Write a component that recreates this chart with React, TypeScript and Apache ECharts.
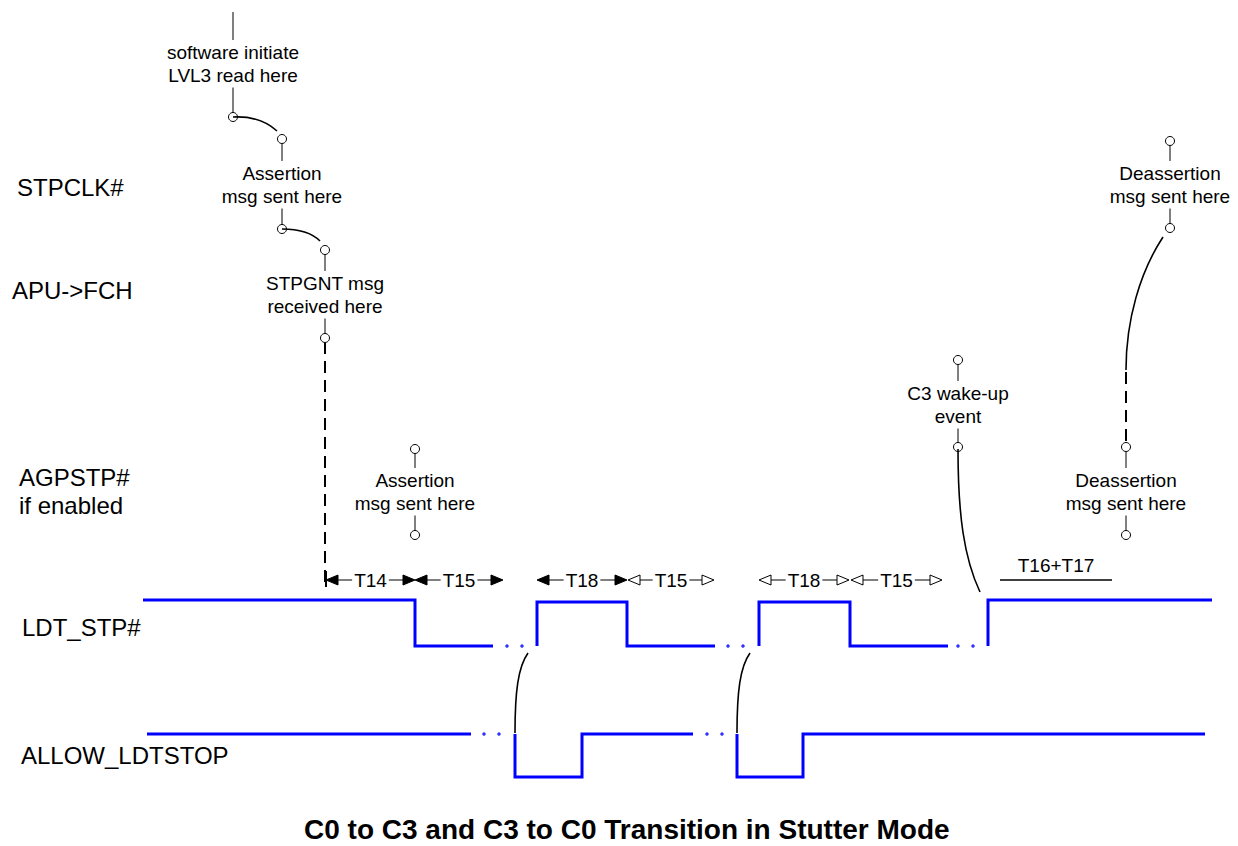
import React, { useEffect, useRef } from "react";
import * as echarts from "echarts";

const FONT = "'Liberation Sans', Arial, Helvetica, sans-serif";

// ---- Signal names (left column) ----
const signalNames = ["STPCLK#", "APU->FCH", "AGPSTP#", "if enabled", "LDT_STP#", "ALLOW_LDTSTOP"];
const signalNameX = [17, 12, 19, 19, 22, 21];
const signalNameY = [187, 290, 477, 505, 627, 755];

// ---- Waveforms (x = time position, y = level on the diagram scale) ----
const ldtStpSegments: number[][][] = [
  [[143, 600], [415, 600], [415, 646], [493, 646]],
  [[537, 646], [537, 602], [627, 602], [627, 646], [715, 646]],
  [[759, 646], [759, 602], [850, 602], [850, 646], [948, 646]],
  [[988, 646], [988, 600], [1212, 600]],
];
const ldtStpDots: number[][] = [[507, 646], [522, 646], [728, 646], [743, 646], [958, 646], [973, 646]];

const allowSegments: number[][][] = [
  [[147, 734], [471, 734]],
  [[515, 734], [515, 777], [582, 777], [582, 734], [693, 734]],
  [[737, 734], [737, 777], [803, 777], [803, 734], [1205, 734]],
];
const allowDots: number[][] = [[484, 734], [499, 734], [707, 734], [722, 734]];

// ---- Annotation pins ----
const pinX = [233, 282, 325, 415, 958, 1170, 1126];
const pinTopY = [12, 139, 250, 449, 360, 141, 447];
const pinTextY = [52, 173, 283, 480, 393, 173, 480];
const pinBottomY = [117, 229, 338, 535, 447, 228, 535];
const pinHasTopCircle = [false, true, true, true, true, true, true];
const pinLabels = [
  ["software initiate", "LVL3 read here"],
  ["Assertion", "msg sent here"],
  ["STPGNT msg", "received here"],
  ["Assertion", "msg sent here"],
  ["C3 wake-up", "event"],
  ["Deassertion", "msg sent here"],
  ["Deassertion", "msg sent here"],
];

// ---- Connecting curves: start, control1, control2, end ----
const curves: number[][] = [
  [233, 117, 252, 116, 266, 121, 277, 131],
  [282, 229, 300, 229, 312, 233, 320, 241],
  [958, 449, 958, 515, 964, 558, 980, 592],
  [1163, 237, 1140, 272, 1126, 320, 1126, 370],
  [515, 733, 515, 692, 518, 667, 528, 653],
  [737, 733, 737, 692, 740, 667, 750, 653],
];

// ---- Dashed connectors ----
const dashedX = [325, 1126];
const dashedY1 = [342, 372];
const dashedY2 = [584, 444];

// ---- Timing intervals ----
const timingLabels = ["T14", "T15", "T18", "T15", "T18", "T15"];
const timingStart = [326, 415, 537, 628, 759, 851];
const timingEnd = [415, 503, 627, 714, 849, 942];
const timingFilled = [true, true, true, false, false, false];
const timingRowY = 580;
const timingStartBar = [326, 571, 587];

const spanLabel = "T16+T17";
const spanStart = 1000;
const spanEnd = 1112;

const title = "C0 to C3 and C3 to C0 Transition in Stutter Mode";

export default function App() {
  const ref = useRef<HTMLDivElement>(null);

  useEffect(() => {
    document.body.style.margin = "0";
    if (!ref.current) return;
    const chart = echarts.init(ref.current, undefined, { renderer: "svg" });

    const blue = "#0000ff";
    const lineSeries = (segs: number[][][], name: string) =>
      segs.map((seg, i) => ({
        name: name + i,
        type: "line",
        data: seg,
        symbol: "none",
        silent: true,
        lineStyle: { color: blue, width: 3, cap: "butt", join: "miter" },
        z: 3,
      }));

    const option: any = {
      animation: false,
      backgroundColor: "#ffffff",
      title: {
        text: title,
        left: 304,
        top: 814,
        padding: 0,
        textStyle: { fontFamily: FONT, fontSize: 28, fontWeight: "bold", color: "#000", lineHeight: 30 },
      },
      grid: { left: 0, right: 0, top: 0, bottom: 0 },
      xAxis: { type: "value", min: 0, max: 1238, show: false },
      yAxis: { type: "value", min: 0, max: 846, inverse: true, show: false },
      graphic: signalNames.map((t, i) => ({
        type: "text",
        x: signalNameX[i],
        y: signalNameY[i],
        silent: true,
        style: {
          text: t,
          fill: "#000",
          font: `24px ${FONT}`,
          align: "left",
          verticalAlign: "middle",
        },
      })),
      series: [
        ...lineSeries(ldtStpSegments, "ldt"),
        ...lineSeries(allowSegments, "allow"),
        {
          type: "scatter",
          data: [...ldtStpDots, ...allowDots],
          symbol: "circle",
          symbolSize: 3.5,
          itemStyle: { color: blue },
          silent: true,
          z: 3,
        },
        // dashed connectors
        {
          type: "custom",
          silent: true,
          data: dashedX.map((x, i) => [x, dashedY1[i], dashedY2[i]]),
          renderItem: (params: any, api: any) => {
            const a = api.coord([api.value(0), api.value(1)]);
            const b = api.coord([api.value(0), api.value(2)]);
            return {
              type: "line",
              shape: { x1: a[0], y1: a[1], x2: b[0], y2: b[1] },
              style: { stroke: "#000", lineWidth: 2, lineDash: [12, 7] },
            };
          },
          z: 4,
        },
        // pins with texts and circles
        {
          type: "custom",
          silent: true,
          data: pinX.map((x, i) => [x, pinTopY[i], pinTextY[i], pinBottomY[i]]),
          renderItem: (params: any, api: any) => {
            const i = params.dataIndex;
            const top = api.coord([api.value(0), api.value(1)]);
            const txt = api.coord([api.value(0), api.value(2)]);
            const bot = api.coord([api.value(0), api.value(3)]);
            const x = top[0];
            const r = 4.5;
            const lh = 23.5;
            const children: any[] = [];
            const hasCircle = pinHasTopCircle[i];
            children.push({
              type: "line",
              shape: { x1: x, y1: hasCircle ? top[1] + r : top[1], x2: x, y2: txt[1] - 12 },
              style: { stroke: "#000", lineWidth: 1 },
            });
            children.push({
              type: "line",
              shape: { x1: x, y1: txt[1] + lh + 12, x2: x, y2: bot[1] - r },
              style: { stroke: "#000", lineWidth: 1 },
            });
            if (hasCircle) {
              children.push({
                type: "circle",
                shape: { cx: x, cy: top[1], r },
                style: { fill: "#fff", stroke: "#000", lineWidth: 1 },
              });
            }
            children.push({
              type: "circle",
              shape: { cx: x, cy: bot[1], r },
              style: { fill: "#fff", stroke: "#000", lineWidth: 1 },
            });
            pinLabels[i].forEach((t, k) => {
              children.push({
                type: "text",
                x,
                y: txt[1] + k * lh,
                style: {
                  text: t,
                  fill: "#000",
                  font: `19px ${FONT}`,
                  align: "center",
                  verticalAlign: "middle",
                },
              });
            });
            return { type: "group", children };
          },
          z: 5,
        },
        // curves
        {
          type: "custom",
          silent: true,
          data: curves,
          renderItem: (params: any, api: any) => {
            const p0 = api.coord([api.value(0), api.value(1)]);
            const c1 = api.coord([api.value(2), api.value(3)]);
            const c2 = api.coord([api.value(4), api.value(5)]);
            const p1 = api.coord([api.value(6), api.value(7)]);
            return {
              type: "bezierCurve",
              shape: {
                x1: p0[0], y1: p0[1], cpx1: c1[0], cpy1: c1[1],
                cpx2: c2[0], cpy2: c2[1], x2: p1[0], y2: p1[1],
              },
              style: { stroke: "#000", lineWidth: 1.6, fill: null },
            };
          },
          z: 6,
        },
        // timing intervals
        {
          type: "custom",
          silent: true,
          data: timingStart.map((s, i) => [s, timingEnd[i], timingRowY]),
          renderItem: (params: any, api: any) => {
            const i = params.dataIndex;
            const a = api.coord([api.value(0), api.value(2)]);
            const b = api.coord([api.value(1), api.value(2)]);
            const y = a[1];
            const L = 12;
            const H = 5;
            const filled = timingFilled[i];
            const arrowStyle = filled
              ? { fill: "#000", stroke: "#000", lineWidth: 1 }
              : { fill: "#fff", stroke: "#000", lineWidth: 1 };
            const mid = (a[0] + b[0]) / 2;
            return {
              type: "group",
              children: [
                {
                  type: "line",
                  shape: { x1: a[0] + L, y1: y, x2: b[0] - L, y2: y },
                  style: { stroke: "#000", lineWidth: 1 },
                },
                {
                  type: "text",
                  x: mid,
                  y: y,
                  style: {
                    text: timingLabels[i],
                    fill: "#000",
                    font: `19px ${FONT}`,
                    align: "center",
                    verticalAlign: "middle",
                    backgroundColor: "#fff",
                    padding: [0, 2],
                  },
                },
                {
                  type: "polygon",
                  shape: { points: [[a[0], y], [a[0] + L, y - H], [a[0] + L, y + H]] },
                  style: arrowStyle,
                },
                {
                  type: "polygon",
                  shape: { points: [[b[0], y], [b[0] - L, y - H], [b[0] - L, y + H]] },
                  style: arrowStyle,
                },
              ],
            };
          },
          z: 7,
        },
        // start bar + T16+T17 span
        {
          type: "custom",
          silent: true,
          data: [[timingStartBar[0], timingStartBar[1], timingStartBar[2], spanStart, spanEnd, timingRowY]],
          renderItem: (params: any, api: any) => {
            const b1 = api.coord([api.value(0), api.value(1)]);
            const b2 = api.coord([api.value(0), api.value(2)]);
            const s1 = api.coord([api.value(3), api.value(5)]);
            const s2 = api.coord([api.value(4), api.value(5)]);
            return {
              type: "group",
              children: [
                {
                  type: "line",
                  shape: { x1: b1[0], y1: b1[1], x2: b2[0], y2: b2[1] },
                  style: { stroke: "#000", lineWidth: 2 },
                },
                {
                  type: "line",
                  shape: { x1: s1[0], y1: s1[1], x2: s2[0], y2: s2[1] },
                  style: { stroke: "#000", lineWidth: 1.5 },
                },
                {
                  type: "text",
                  x: (s1[0] + s2[0]) / 2,
                  y: s1[1] - 15,
                  style: {
                    text: spanLabel,
                    fill: "#000",
                    font: `19px ${FONT}`,
                    align: "center",
                    verticalAlign: "middle",
                  },
                },
              ],
            };
          },
          z: 7,
        },
      ],
    };

    chart.setOption(option);
    return () => chart.dispose();
  }, []);

  return <div ref={ref} style={{ width: 1238, height: 846 }} />;
}
